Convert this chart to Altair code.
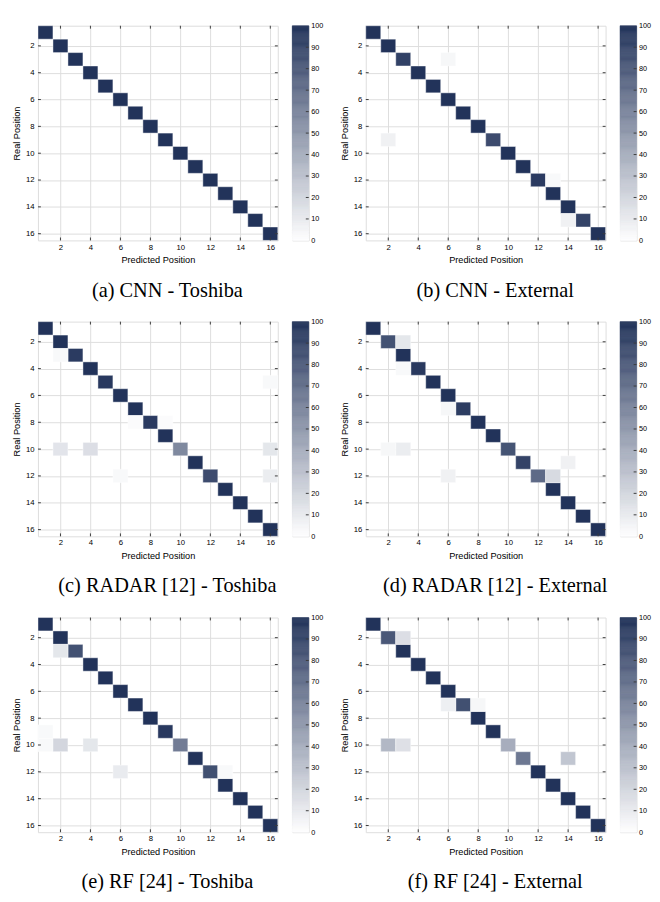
import altair as alt
import pandas as pd

# ---------------- data ----------------
tick_values = [2, 4, 6, 8, 10, 12, 14, 16]
cbar_values = [0, 10, 20, 30, 40, 50, 60, 70, 80, 90, 100]

captions = [
    "(a) CNN - Toshiba",
    "(b) CNN - External",
    "(c) RADAR [12] - Toshiba",
    "(d) RADAR [12] - External",
    "(e) RF [24] - Toshiba",
    "(f) RF [24] - External",
]

# diagonal (rows 1..16) and off-diagonal (row, col, value) percentages
cnn_toshiba_diag = [100, 100, 100, 100, 100, 100, 100, 100, 100, 100, 100, 100, 100, 100, 100, 100]
cnn_toshiba_off = []

cnn_external_diag = [100, 100, 93, 100, 100, 100, 100, 100, 88, 100, 100, 96, 100, 100, 92, 100]
cnn_external_off = [(3, 6, 4), (9, 2, 7), (12, 13, 3), (15, 14, 7)]

radar_toshiba_diag = [100, 100, 96, 100, 97, 100, 100, 96, 100, 58, 100, 88, 100, 100, 100, 100]
radar_toshiba_off = [(3, 2, 3), (5, 16, 3), (8, 7, 2), (8, 9, 2), (10, 2, 13), (10, 4, 16),
                     (10, 16, 12), (12, 6, 3), (12, 16, 9)]

radar_external_diag = [100, 85, 100, 97, 100, 100, 95, 100, 100, 84, 92, 73, 100, 100, 100, 100]
radar_external_off = [(2, 3, 12), (4, 3, 3), (7, 6, 4), (10, 2, 4), (10, 3, 9), (11, 14, 7),
                      (12, 6, 7), (12, 13, 18)]

rf_toshiba_diag = [100, 100, 85, 100, 100, 100, 100, 100, 97, 64, 100, 86, 100, 100, 100, 100]
rf_toshiba_off = [(3, 2, 12), (9, 1, 3), (10, 1, 3), (10, 2, 20), (10, 4, 12), (12, 6, 10), (12, 13, 3)]

rf_external_diag = [100, 82, 100, 100, 100, 100, 86, 100, 100, 40, 66, 100, 100, 100, 100, 100]
rf_external_off = [(2, 3, 16), (7, 6, 8), (7, 8, 4), (10, 2, 35), (10, 3, 15), (11, 14, 28)]

panels = [
    (cnn_toshiba_diag, cnn_toshiba_off),
    (cnn_external_diag, cnn_external_off),
    (radar_toshiba_diag, radar_toshiba_off),
    (radar_external_diag, radar_external_off),
    (rf_toshiba_diag, rf_toshiba_off),
    (rf_external_diag, rf_external_off),
]

# ---------------- style ----------------
W, H, CW = 248, 222, 17
DARK = "#22335a"
cscale = alt.Scale(domain=[0, 100], range=["#ffffff", DARK], interpolate="rgb")
AXC = "#404040"
TICKC = "#3a3a3a"

xs = alt.Scale(domain=[0.5, 16.5], nice=False, zero=False)
ys = alt.Scale(domain=[0.5, 16.5], nice=False, zero=False, reverse=True)
x_axis = alt.Axis(values=tick_values, title="Predicted Position", grid=True, ticks=False,
                  domain=False, labelPadding=3, titlePadding=4, titleFontWeight="normal",
                  titleFontSize=9.5, labelFontSize=8)
y_axis = alt.Axis(values=tick_values, title="Real Position", grid=True, ticks=False,
                  domain=False, labelPadding=4, titlePadding=4, titleFontWeight="normal",
                  titleFontSize=9.5, labelFontSize=8)


def heat(diag, off):
    recs = [dict(row=i + 1, col=i + 1, v=d) for i, d in enumerate(diag)]
    recs += [dict(row=r, col=c, v=v) for r, c, v in off]
    df = pd.DataFrame(recs)
    df = df[df.v > 0].copy()
    df["c0"] = df.col - 0.5
    df["c1"] = df.col + 0.5
    df["r0"] = df.row - 0.5
    df["r1"] = df.row + 0.5

    rect = alt.Chart(df).mark_rect(stroke="#ffffff", strokeWidth=1, strokeOpacity=0.45).encode(
        x=alt.X("c0:Q", scale=xs, axis=x_axis),
        x2="c1:Q",
        y=alt.Y("r0:Q", scale=ys, axis=y_axis),
        y2="r1:Q",
        color=alt.Color("v:Q", scale=cscale, legend=None),
    )

    tdf = pd.DataFrame({"k": tick_values})
    xk = alt.X("k:Q", scale=xs, axis=x_axis)
    yk = alt.Y("k:Q", scale=ys, axis=y_axis)
    tb = alt.Chart(tdf).mark_rule(color=TICKC).encode(x=xk, y=alt.value(H - 3), y2=alt.value(H))
    tt = alt.Chart(tdf).mark_rule(color=TICKC).encode(x=xk, y=alt.value(0), y2=alt.value(3))
    tl = alt.Chart(tdf).mark_rule(color=TICKC).encode(y=yk, x=alt.value(0), x2=alt.value(3))
    tr = alt.Chart(tdf).mark_rule(color=TICKC).encode(y=yk, x=alt.value(W - 3), x2=alt.value(W))
    return alt.layer(rect, tb, tt, tl, tr).properties(width=W, height=H)


def colorbar():
    levels = pd.DataFrame({"lo": [v / 2 for v in range(0, 200)]})
    cs = alt.Scale(domain=[0, 100], nice=False, zero=False)
    c_axis = alt.Axis(orient="right", values=cbar_values, title=None, ticks=False, domain=False,
                      grid=False, labelFontSize=7.5, labelPadding=2)
    bar = alt.Chart(levels).transform_calculate(
        hi="datum.lo + 0.5", mid="datum.lo + 0.25"
    ).mark_rect(strokeWidth=0.6).encode(
        y=alt.Y("lo:Q", scale=cs, axis=c_axis),
        y2="hi:Q",
        x=alt.value(0), x2=alt.value(CW),
        color=alt.Color("mid:Q", scale=cscale, legend=None),
        stroke=alt.Color("mid:Q", scale=cscale, legend=None),
    )
    tdf = pd.DataFrame({"k": cbar_values[1:-1]})
    tk = alt.Chart(tdf).mark_rule(color=TICKC).encode(
        y=alt.Y("k:Q", scale=cs, axis=c_axis), x=alt.value(CW - 3), x2=alt.value(CW))
    return alt.layer(bar, tk).properties(width=CW, height=H)


def panel(i):
    diag, off = panels[i]
    return alt.hconcat(heat(diag, off), colorbar(), spacing=13).properties(
        title=alt.TitleParams(captions[i], orient="bottom", anchor="middle",
                              font="Liberation Serif", fontSize=21, fontWeight="normal",
                              color="black", offset=16)
    )


rows = [alt.hconcat(panel(2 * r), panel(2 * r + 1), spacing=15) for r in range(3)]
chart = alt.vconcat(*rows, spacing=17).configure_view(
    stroke="#4a4a4a", strokeWidth=1
).configure_axis(
    labelFont="Liberation Sans", titleFont="Liberation Sans",
    labelColor=AXC, titleColor=AXC,
    gridColor="#dcdcdc", gridWidth=1,
).configure(padding={"left": 3, "top": -2, "right": 0, "bottom": 0}, background="white")

chart.save("out.html", embed_options={"renderer": "svg", "actions": False})
